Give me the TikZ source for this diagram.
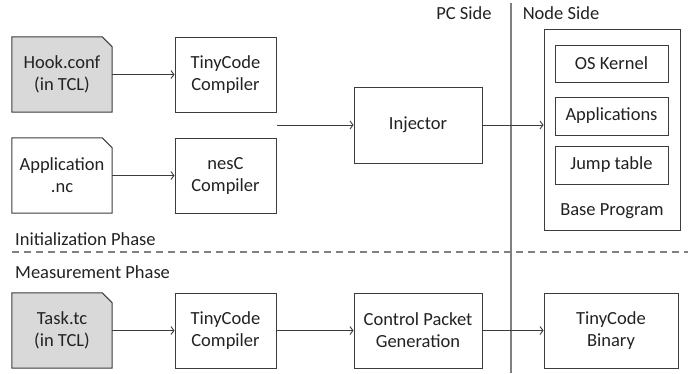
\documentclass[tikz,border=0pt]{standalone}
\usepackage{fontspec}
\setmainfont{Carlito}
\usetikzlibrary{arrows.meta,calc,backgrounds}

\definecolor{boxline}{HTML}{3C3C3C}
\definecolor{docfill}{HTML}{D9D9D9}
\definecolor{sepline}{HTML}{808080}
\definecolor{txt}{HTML}{222222}

\tikzset{
  lbl/.style={font=\fontsize{18.5}{22}\selectfont, text=txt, align=center, inner sep=0pt},
  blk/.style={lbl, draw=boxline, line width=1pt, fill=white},
  docbox/.style={lbl, minimum width=100pt, minimum height=75pt},
  doclines/.style={draw=boxline, line width=1pt},
  flow/.style={draw=boxline, line width=0.9pt, -{Straight Barb[length=3pt,width=8pt]}},
}

\newcommand{\docshape}[2]{%
  \begin{pgfonlayer}{background}
    \path[doclines, fill=#2] (#1.south west) -- (#1.north west)
      -- ($(#1.north east)+(-10,0)$) -- ($(#1.north east)+(0,10)$)
      -- (#1.south east) -- cycle;
  \end{pgfonlayer}}

\begin{document}
\begin{tikzpicture}[x=1pt, y=-1pt]
  \useasboundingbox (0,0) rectangle (688,373);

  % side separator and phase separator
  \coordinate (vtop) at (511,3);
  \coordinate (vbot) at (511,373);
  \draw[sepline, line width=1.4pt] (vtop) -- (vbot);
  \coordinate (dl) at (12,252);
  \coordinate (dr) at (688,252);
  \draw[sepline, line width=1.2pt, dash pattern=on 7pt off 5pt] (dl) -- (dr);

  \node[lbl] (pcside) at (464,13) {PC Side};
  \node[lbl] (nodeside) at (561,13) {Node Side};
  \node[lbl, anchor=west] (initph) at (15,239) {Initialization Phase};
  \node[lbl, anchor=west] (measph) at (15,272) {Measurement Phase};

  % initialization phase
  \node[docbox] (hook) at (62,74.5) {Hook.conf\\(in TCL)};
  \docshape{hook}{docfill}
  \node[blk, minimum width=101pt, minimum height=75pt] (tc1) at (225.5,74.5) {TinyCode\\Compiler};
  \node[docbox] (app) at (62,175.5) {Application\\.nc};
  \docshape{app}{white}
  \node[blk, minimum width=101pt, minimum height=75pt] (nesc) at (225.5,175.5) {nesC\\Compiler};
  \node[blk, minimum width=128pt, minimum height=76pt] (inj) at (418,125) {Injector};

  \node[blk, minimum width=136pt, minimum height=201pt] (base) at (612,129.5) {};
  \node[blk, minimum width=113pt, minimum height=37pt] (os) at (611.5,63.5) {OS Kernel};
  \node[blk, minimum width=113pt, minimum height=38pt] (apps) at (611.5,116) {Applications};
  \node[blk, minimum width=113pt, minimum height=38pt] (jump) at (611.5,165) {Jump table};
  \node[lbl] (baselbl) at (612,211) {Base Program};

  \draw[flow] (hook.east) -- (tc1.west);
  \draw[flow] (app.east) -- (nesc.west);
  \coordinate (merge) at (277,125);
  \draw[flow] (merge) -- (inj.west);
  \draw[flow] (inj.east) -- (inj.east -| base.west);

  % measurement phase
  \node[docbox] (task) at (62,330.5) {Task.tc\\(in TCL)};
  \docshape{task}{docfill}
  \node[blk, minimum width=101pt, minimum height=75pt] (tc2) at (225.5,330.5) {TinyCode\\Compiler};
  \node[blk, minimum width=128pt, minimum height=75pt] (cpg) at (418,330.5) {Control Packet\\Generation};
  \node[blk, minimum width=134pt, minimum height=75pt] (bin) at (611,330.5) {TinyCode\\Binary};

  \draw[flow] (task.east) -- (tc2.west);
  \draw[flow] (tc2.east) -- (cpg.west);
  \draw[flow] (cpg.east) -- (bin.west);
\end{tikzpicture}
\end{document}
